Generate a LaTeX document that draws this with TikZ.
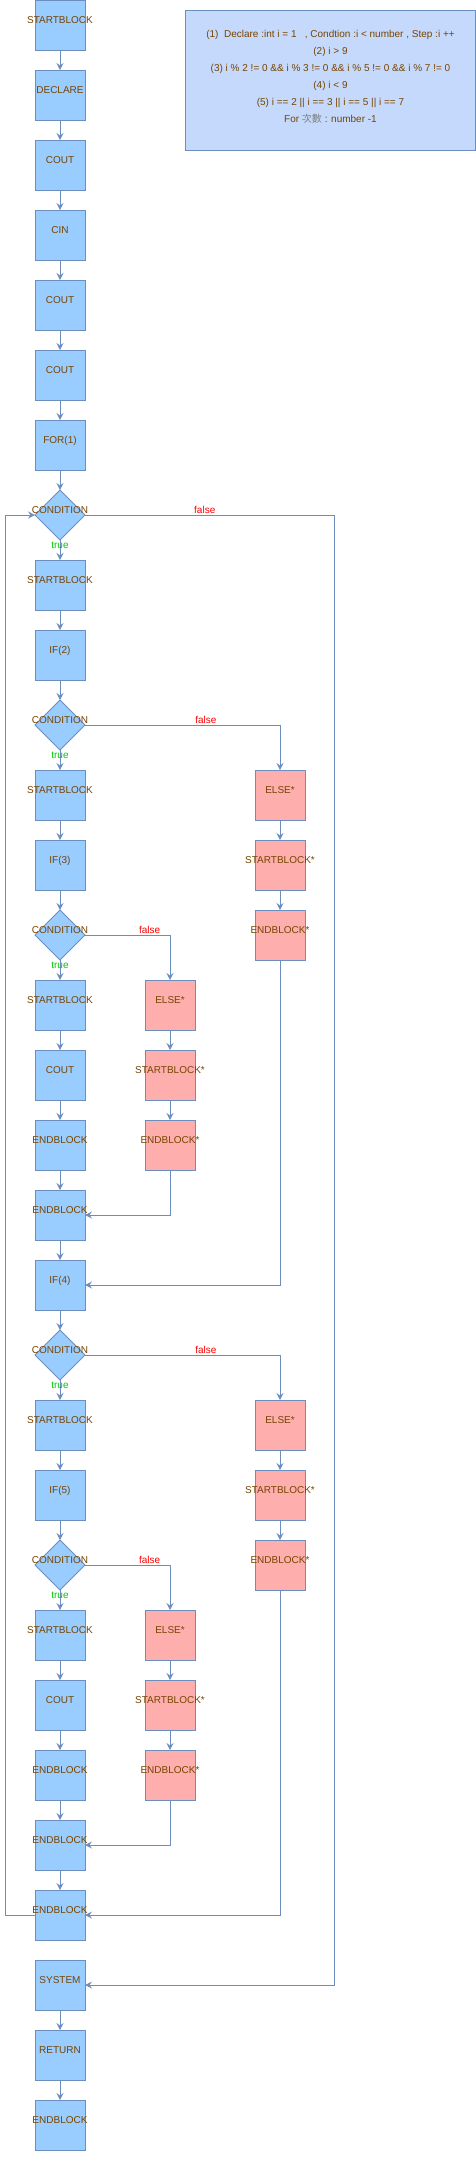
\documentclass[tikz,border=0pt]{standalone}
\usepackage{fontspec}
\setmainfont{Liberation Sans}
\newfontfamily\cjk{Noto Sans CJK TC}
\usetikzlibrary{positioning,shapes.geometric,arrows.meta}

\definecolor{lineblue}{HTML}{6C8EBF}
\definecolor{boxblue}{HTML}{99CCFF}
\definecolor{boxpink}{HTML}{FFAEAE}
\definecolor{txtbrown}{HTML}{774400}
\definecolor{notefill}{HTML}{C5D9FC}
\definecolor{truegreen}{HTML}{00CC00}

\tikzset{
  zerow/.style={execute at begin node={\hbox to 0pt\bgroup\hss},
                execute at end node={\hss\egroup}},
  blk/.style={rectangle, draw=lineblue, fill=boxblue, line width=1pt,
              minimum size=50pt, inner sep=0pt, outer sep=0pt,
              text=txtbrown, font=\fontsize{10pt}{12pt}\selectfont,
              text height=7pt, text depth=10pt, zerow},
  elseblk/.style={blk, fill=boxpink},
  cond/.style={blk, diamond, aspect=1},
  arr/.style={draw=lineblue, line width=1pt,
              -{Stealth[length=7pt,width=7pt,inset=2.5pt]}},
  tlbl/.style={text=truegreen, font=\fontsize{10pt}{12pt}\selectfont, inner sep=0pt},
  flbl/.style={text=red, font=\fontsize{10pt}{12pt}\selectfont, above, inner sep=1pt},
  notebox/.style={rectangle, draw=lineblue, fill=notefill, line width=1pt,
                  minimum width=290pt, minimum height=140pt, inner sep=0pt},
  notetxt/.style={text=txtbrown, align=center, inner sep=0pt,
                  font=\fontsize{10pt}{17pt}\selectfont}
}

\begin{document}
\begin{tikzpicture}[node distance=20pt]
\useasboundingbox (0,0) rectangle (476pt,-2172pt);

% main column
\node[blk] (st0) at (60pt,-25pt) {STARTBLOCK};
\node[blk, below=of st0] (decl) {DECLARE};
\node[blk, below=of decl] (cout1) {COUT};
\node[blk, below=of cout1] (cin) {CIN};
\node[blk, below=of cin] (cout2) {COUT};
\node[blk, below=of cout2] (cout3) {COUT};
\node[blk, below=of cout3] (for1) {FOR(1)};
\node[cond, below=of for1] (cond1) {CONDITION};
\node[blk, below=of cond1] (st1) {STARTBLOCK};
\node[blk, below=of st1] (if2) {IF(2)};
\node[cond, below=of if2] (cond2) {CONDITION};
\node[blk, below=of cond2] (st2) {STARTBLOCK};
\node[blk, below=of st2] (if3) {IF(3)};
\node[cond, below=of if3] (cond3) {CONDITION};
\node[blk, below=of cond3] (st3) {STARTBLOCK};
\node[blk, below=of st3] (cout4) {COUT};
\node[blk, below=of cout4] (end1) {ENDBLOCK};
\node[blk, below=of end1] (end2) {ENDBLOCK};
\node[blk, below=of end2] (if4) {IF(4)};
\node[cond, below=of if4] (cond4) {CONDITION};
\node[blk, below=of cond4] (st4) {STARTBLOCK};
\node[blk, below=of st4] (if5) {IF(5)};
\node[cond, below=of if5] (cond5) {CONDITION};
\node[blk, below=of cond5] (st5) {STARTBLOCK};
\node[blk, below=of st5] (cout5) {COUT};
\node[blk, below=of cout5] (end3) {ENDBLOCK};
\node[blk, below=of end3] (end4) {ENDBLOCK};
\node[blk, below=of end4] (end5) {ENDBLOCK};
\node[blk, below=of end5] (sys) {SYSTEM};
\node[blk, below=of sys] (ret) {RETURN};
\node[blk, below=of ret] (end6) {ENDBLOCK};

% else branches
\node[elseblk, right=170pt of st2] (else2) {ELSE*};
\node[elseblk, below=of else2] (stx2) {STARTBLOCK*};
\node[elseblk, below=of stx2] (endx2) {ENDBLOCK*};
\node[elseblk, right=60pt of st3] (else3) {ELSE*};
\node[elseblk, below=of else3] (stx3) {STARTBLOCK*};
\node[elseblk, below=of stx3] (endx3) {ENDBLOCK*};
\node[elseblk, right=170pt of st4] (else4) {ELSE*};
\node[elseblk, below=of else4] (stx4) {STARTBLOCK*};
\node[elseblk, below=of stx4] (endx4) {ENDBLOCK*};
\node[elseblk, right=60pt of st5] (else5) {ELSE*};
\node[elseblk, below=of else5] (stx5) {STARTBLOCK*};
\node[elseblk, below=of stx5] (endx5) {ENDBLOCK*};

\coordinate (loopx) at (5.5pt,0);
\coordinate (outerx) at (334.5pt,0);

% note
\node[notebox] (note) at (330.5pt,-80.5pt) {};
\node[notetxt] (notetext) at ([yshift=4pt]note.center)
  {(1)\ \ Declare :int i = 1\ \ \ , Condtion :i < number , Step :i ++\\
   (2) i > 9\\
   (3) i \% 2 != 0 \&\& i \% 3 != 0 \&\& i \% 5 != 0 \&\& i \% 7 != 0\\
   (4) i < 9\\
   (5) i == 2 || i == 3 || i == 5 || i == 7\\
   For {\cjk\color{gray}次數} : number -1};

% edges
\foreach \a/\b in {st0/decl, decl/cout1, cout1/cin, cin/cout2, cout2/cout3,
    cout3/for1, for1/cond1, st1/if2, if2/cond2, st2/if3, if3/cond3,
    st3/cout4, cout4/end1, end1/end2, end2/if4, if4/cond4, st4/if5,
    if5/cond5, st5/cout5, cout5/end3, end3/end4, end4/end5, sys/ret,
    ret/end6, else2/stx2, stx2/endx2, else3/stx3, stx3/endx3,
    else4/stx4, stx4/endx4, else5/stx5, stx5/endx5}
  \draw[arr] (\a) -- (\b);

\foreach \c/\s in {cond1/st1, cond2/st2, cond3/st3, cond4/st4, cond5/st5}
  \draw[arr] (\c) -- node[tlbl, pos=0.25] {true} (\s);

\draw[arr] (cond1.east) -- node[flbl, pos=0.48] {false} (cond1.east -| outerx) |- (sys.east);
\draw[arr] (cond2.east) -- node[flbl, pos=0.62] {false} (cond2.east -| else2) -- (else2);
\draw[arr] (cond3.east) -- node[flbl, pos=0.76] {false} (cond3.east -| else3) -- (else3);
\draw[arr] (cond4.east) -- node[flbl, pos=0.62] {false} (cond4.east -| else4) -- (else4);
\draw[arr] (cond5.east) -- node[flbl, pos=0.76] {false} (cond5.east -| else5) -- (else5);

\draw[arr] (endx3) |- (end2);
\draw[arr] (endx2) |- (if4);
\draw[arr] (endx5) |- (end4);
\draw[arr] (endx4) |- (end5);
\draw[arr] (end5.west) -- (end5.west -| loopx) |- (cond1.west);

\end{tikzpicture}
\end{document}
